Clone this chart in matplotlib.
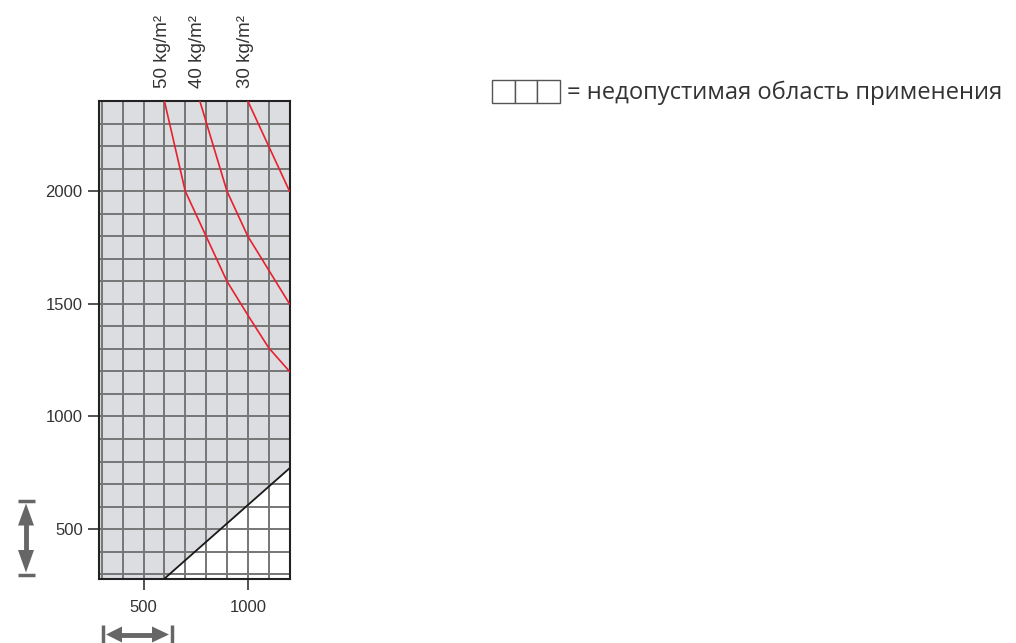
import matplotlib
matplotlib.use("Agg")
import matplotlib.pyplot as plt
from matplotlib.patches import Rectangle, Polygon
import matplotlib.transforms as mtransforms
import numpy as np

# ---- data ----
curve_labels = ["50 kg/m²", "40 kg/m²", "30 kg/m²"]
label_x = [590, 757, 987]
c50_x = [600, 700, 800, 900, 1000, 1100, 1200]
c50_y = [2400, 2000, 1800, 1600, 1450, 1305, 1200]
c40_x = [770, 900, 1000, 1100, 1200]
c40_y = [2400, 2000, 1800, 1650, 1500]
c30_x = [1000, 1100, 1200]
c30_y = [2400, 2200, 2000]
limit_x = [600, 1200]
limit_y = [280, 770]
x_ticks = [500, 1000]
y_ticks = [500, 1000, 1500, 2000]
legend_text = "= недопустимая область применения"

XMIN, XMAX = 285, 1200
YMIN, YMAX = 280, 2400

plt.rcParams['font.family'] = ['Liberation Sans', 'DejaVu Sans']

W, H = 1016, 643
fig = plt.figure(figsize=(W/100, H/100), dpi=100)
ax = fig.add_axes([98.7/W, 1-578.7/H, (289.5-98.7)/W, (578.7-101)/H])

# shaded region: above the limit line
xs = np.linspace(XMIN, XMAX, 400)
ly = np.interp(xs, limit_x, limit_y, left=YMIN)
ly = np.maximum(ly, YMIN)
ax.fill_between(xs, ly, YMAX, color="#dcdde0", lw=0, zorder=0.2)

ax.plot(limit_x, limit_y, color="#1a1a1a", lw=1.3, zorder=3)
for cx, cy in [(c50_x, c50_y), (c40_x, c40_y), (c30_x, c30_y)]:
    ax.plot(cx, cy, color="#e8202e", lw=1.2, zorder=3)

ax.set_xlim(XMIN, XMAX)
ax.set_ylim(YMIN, YMAX)
ax.set_xticks(np.arange(300, 1201, 100), minor=True)
ax.set_yticks(np.arange(300, 2401, 100), minor=True)
ax.set_xticks(x_ticks)
ax.set_yticks(y_ticks)
ax.grid(which="both", color="#767676", lw=1.4)
ax.set_axisbelow(True)
ax.tick_params(which="major", axis="x", pad=7)
ax.tick_params(which="minor", length=0)
ax.tick_params(which="major", length=8, width=1.2, color="#333333",
               labelsize=12, labelcolor="#333333")
for s in ax.spines.values():
    s.set_color("#222222")
    s.set_linewidth(1.5)

# curve labels at top
trans = mtransforms.blended_transform_factory(ax.transData, ax.transAxes)
for lx, lab in zip(label_x, curve_labels):
    ax.text(lx, 1.027, lab, transform=trans, rotation=90, ha="center", va="bottom",
            fontsize=13.5, color="#333333")

# legend
for i in range(3):
    fig.patches.append(Rectangle((492/W + i*22.7/W, 1-102.5/H), 22.7/W, 22/H,
                                 transform=fig.transFigure, facecolor="white",
                                 edgecolor="#555555", lw=1.0))
fig.text(567/W, 1-93/H, legend_text, ha="left", va="center", fontsize=17.1,
         color="#333333", family=["Open Sans", "DejaVu Sans"])

# dimension arrows (pixel coordinates -> figure fraction)
gray = "#666666"
def P(px, py):
    return (px/W, 1-py/H)

def add_poly(pts):
    fig.patches.append(Polygon([P(*p) for p in pts], closed=True, transform=fig.transFigure,
                               facecolor=gray, edgecolor="none"))

def add_line(p0, p1, lw):
    fig.add_artist(plt.Line2D([p0[0]/W, p1[0]/W], [1-p0[1]/H, 1-p1[1]/H],
                              transform=fig.transFigure, color=gray, lw=lw, solid_capstyle="butt"))

# vertical arrow
vx = 26
add_line((vx, 520), (vx, 555), 3.5)
add_poly([(vx, 503.5), (vx-8, 525.5), (vx+8, 525.5)])
add_poly([(vx, 572.5), (vx-8, 550), (vx+8, 550)])
add_line((17.5, 501), (34.5, 501), 2.5)
add_line((17.5, 575), (34.5, 575), 2.5)

# horizontal arrow
hy = 634.5
add_line((118, hy), (155, hy), 3.5)
add_poly([(106, hy), (122, hy-8), (122, hy+8)])
add_poly([(169, hy), (152, hy-8), (152, hy+8)])
add_line((102.5, 625), (102.5, 645), 2.5)
add_line((172, 625), (172, 645), 2.5)

fig.savefig("out.png", dpi=100)
